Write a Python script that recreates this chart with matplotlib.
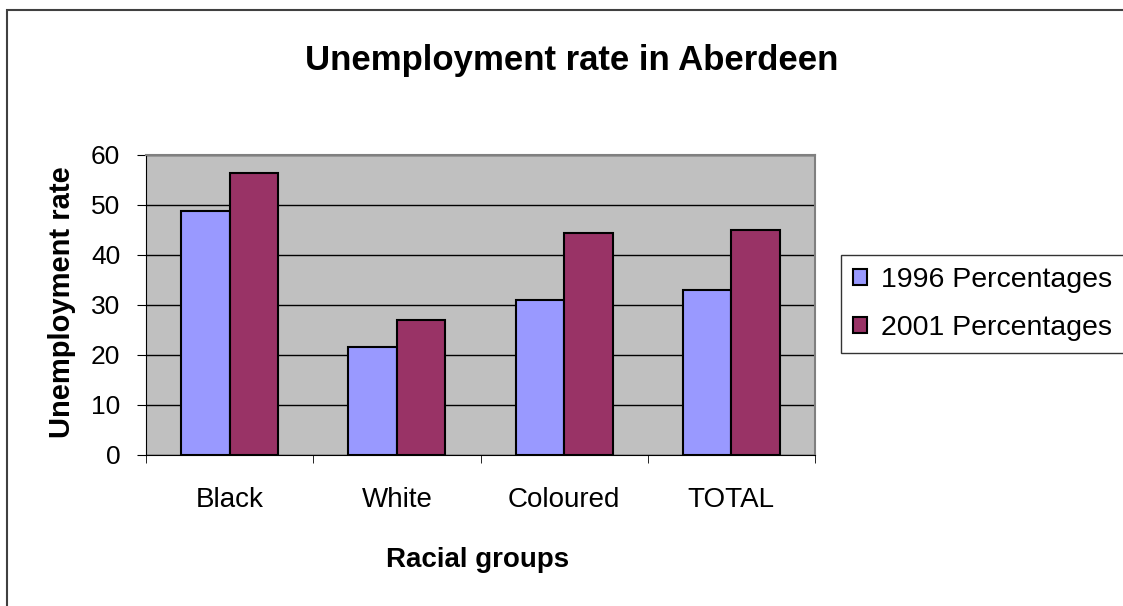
import numpy as np
import matplotlib
matplotlib.use('Agg')
import matplotlib.pyplot as plt
from matplotlib.patches import Rectangle

groups = ['Black', 'White', 'Coloured', 'TOTAL']
pct_1996 = [48.9, 21.7, 31.1, 33.1]
pct_2001 = [56.4, 27.1, 44.5, 45.0]

plt.rcParams['font.family'] = ['Liberation Sans', 'DejaVu Sans']

fig = plt.figure(figsize=(11.23, 6.06), dpi=100)
W, H = 1123, 606
ax = fig.add_axes([146 / W, 1 - 455 / H, (815 - 146) / W, (455 - 155) / H])

# outer chart border
fig.patches.append(Rectangle((7 / W, -0.1), 1.2, 1 - 10 / H + 0.1, transform=fig.transFigure,
                             fill=False, edgecolor='#404040', linewidth=1.5))

x = np.arange(len(groups))
bw = 0.29
ax.set_facecolor('#C0C0C0')
ax.bar(x - bw / 2, pct_1996, bw, color='#9999FF', edgecolor='black', linewidth=1.5,
       label='1996 Percentages', zorder=3)
ax.bar(x + bw / 2, pct_2001, bw, color='#993366', edgecolor='black', linewidth=1.5,
       label='2001 Percentages', zorder=3)

ax.set_xlim(-0.5, len(groups) - 0.5)
ax.set_ylim(0, 60)
ax.set_yticks(range(0, 61, 10))
ax.yaxis.grid(True, color='black', linewidth=1, zorder=1)
ax.tick_params(axis='y', labelsize=19, length=6.5, direction='out', pad=12)
ax.set_xticks(x)
ax.set_xticklabels(groups)
ax.tick_params(axis='x', labelsize=20, length=0, pad=23)
ax.set_xticks(np.arange(-0.5, len(groups)), minor=True)
ax.tick_params(axis='x', which='minor', length=6, direction='out')

for s in ['top', 'right']:
    ax.spines[s].set_color('#808080')
    ax.spines[s].set_linewidth(1.5)
ax.spines['left'].set_color('black')
ax.spines['bottom'].set_color('black')

fig.text(572 / W, 1 - 70 / H, 'Unemployment rate in Aberdeen', ha='center', va='baseline',
         fontsize=25, fontweight='bold')
fig.text(70 / W, 1 - 302 / H, 'Unemployment rate', ha='center', va='baseline',
         rotation=90, rotation_mode='anchor', fontsize=21, fontweight='bold')
fig.text(478 / W, 1 - 567 / H, 'Racial groups', ha='center', va='baseline',
         fontsize=20, fontweight='bold')

leg = ax.legend(loc='upper left', bbox_to_anchor=(841 / W, 1 - 255 / H),
                bbox_transform=fig.transFigure, fontsize=20.5, frameon=True,
                fancybox=False, edgecolor='black', handlelength=0.5, handleheight=0.5,
                handletextpad=0.47, borderpad=0.42, labelspacing=0.78, borderaxespad=0)
leg.get_frame().set_linewidth(1)

fig.savefig('out.png', dpi=100, facecolor='white')
